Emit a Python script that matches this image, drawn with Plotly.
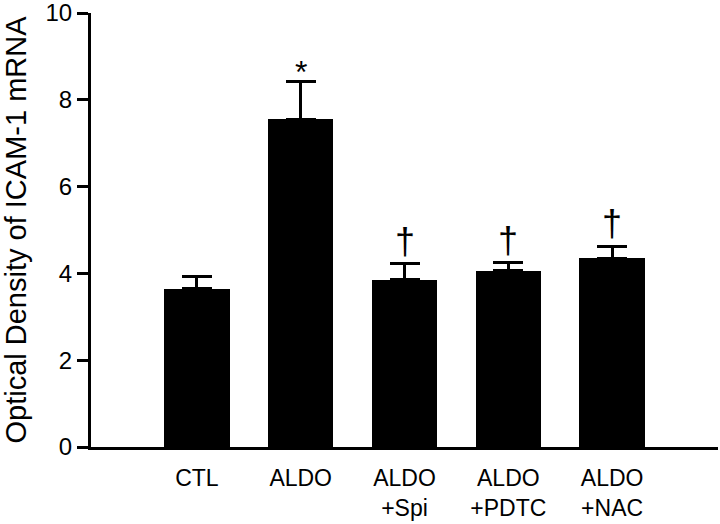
import plotly.graph_objects as go

categories = ["CTL", "ALDO", "ALDO<br>+Spi", "ALDO<br>+PDTC", "ALDO<br>+NAC"]
values = [3.65, 7.55, 3.85, 4.06, 4.35]
errors = [0.27, 0.87, 0.37, 0.18, 0.27]
marks = ["", "*", "†", "†", "†"]
y_ticks = [0, 2, 4, 6, 8, 10]
y_title = "Optical Density of ICAM-1 mRNA"

FONT = "Liberation Sans, Arial, Helvetica, sans-serif"
xpos = list(range(len(categories)))

fig = go.Figure()
fig.add_trace(go.Bar(
    x=xpos, y=values, width=0.63,
    marker=dict(color="black", line=dict(width=0)),
    error_y=dict(type="data", symmetric=False, array=errors,
                 arrayminus=[0] * len(errors), color="black",
                 thickness=3, width=15),
))

for xi, v, e, m in zip(xpos, values, errors, marks):
    if not m:
        continue
    if m == "*":
        fig.add_annotation(x=xi, y=v + e, text=m, showarrow=False, yshift=-10,
                           yanchor="bottom", font=dict(family=FONT, size=32, color="black"))
    else:
        fig.add_annotation(x=xi, y=v + e, text=m, showarrow=False, yshift=0,
                           yanchor="bottom", font=dict(family=FONT, size=36, color="black"))

fig.update_layout(
    width=720, height=524,
    margin=dict(l=91, r=2, t=13, b=77),
    plot_bgcolor="white", paper_bgcolor="white",
    showlegend=False,
    font=dict(family=FONT, size=24, color="black"),
    bargap=0,
)
fig.update_xaxes(
    range=[-1.02, 5.02], tickmode="array", tickvals=xpos, ticktext=categories,
    showline=True, linecolor="black", linewidth=3, ticks="", showgrid=False,
    zeroline=False, ticklabelstandoff=8, tickfont=dict(size=23),
    automargin=False, ticklabeloverflow="allow",
)
fig.update_yaxes(
    range=[0, 10], tickmode="array", tickvals=y_ticks,
    showline=True, linecolor="black", linewidth=3, ticks="outside",
    ticklen=11, tickwidth=3, tickcolor="black", showgrid=False, zeroline=False,
    tickfont=dict(size=24), automargin=False, ticklabeloverflow="allow",
    title=dict(text=y_title, font=dict(size=29), standoff=14),
)

fig.write_html("out.html", config={"displayModeBar": False},
               post_script="document.body.style.margin='0px';")
